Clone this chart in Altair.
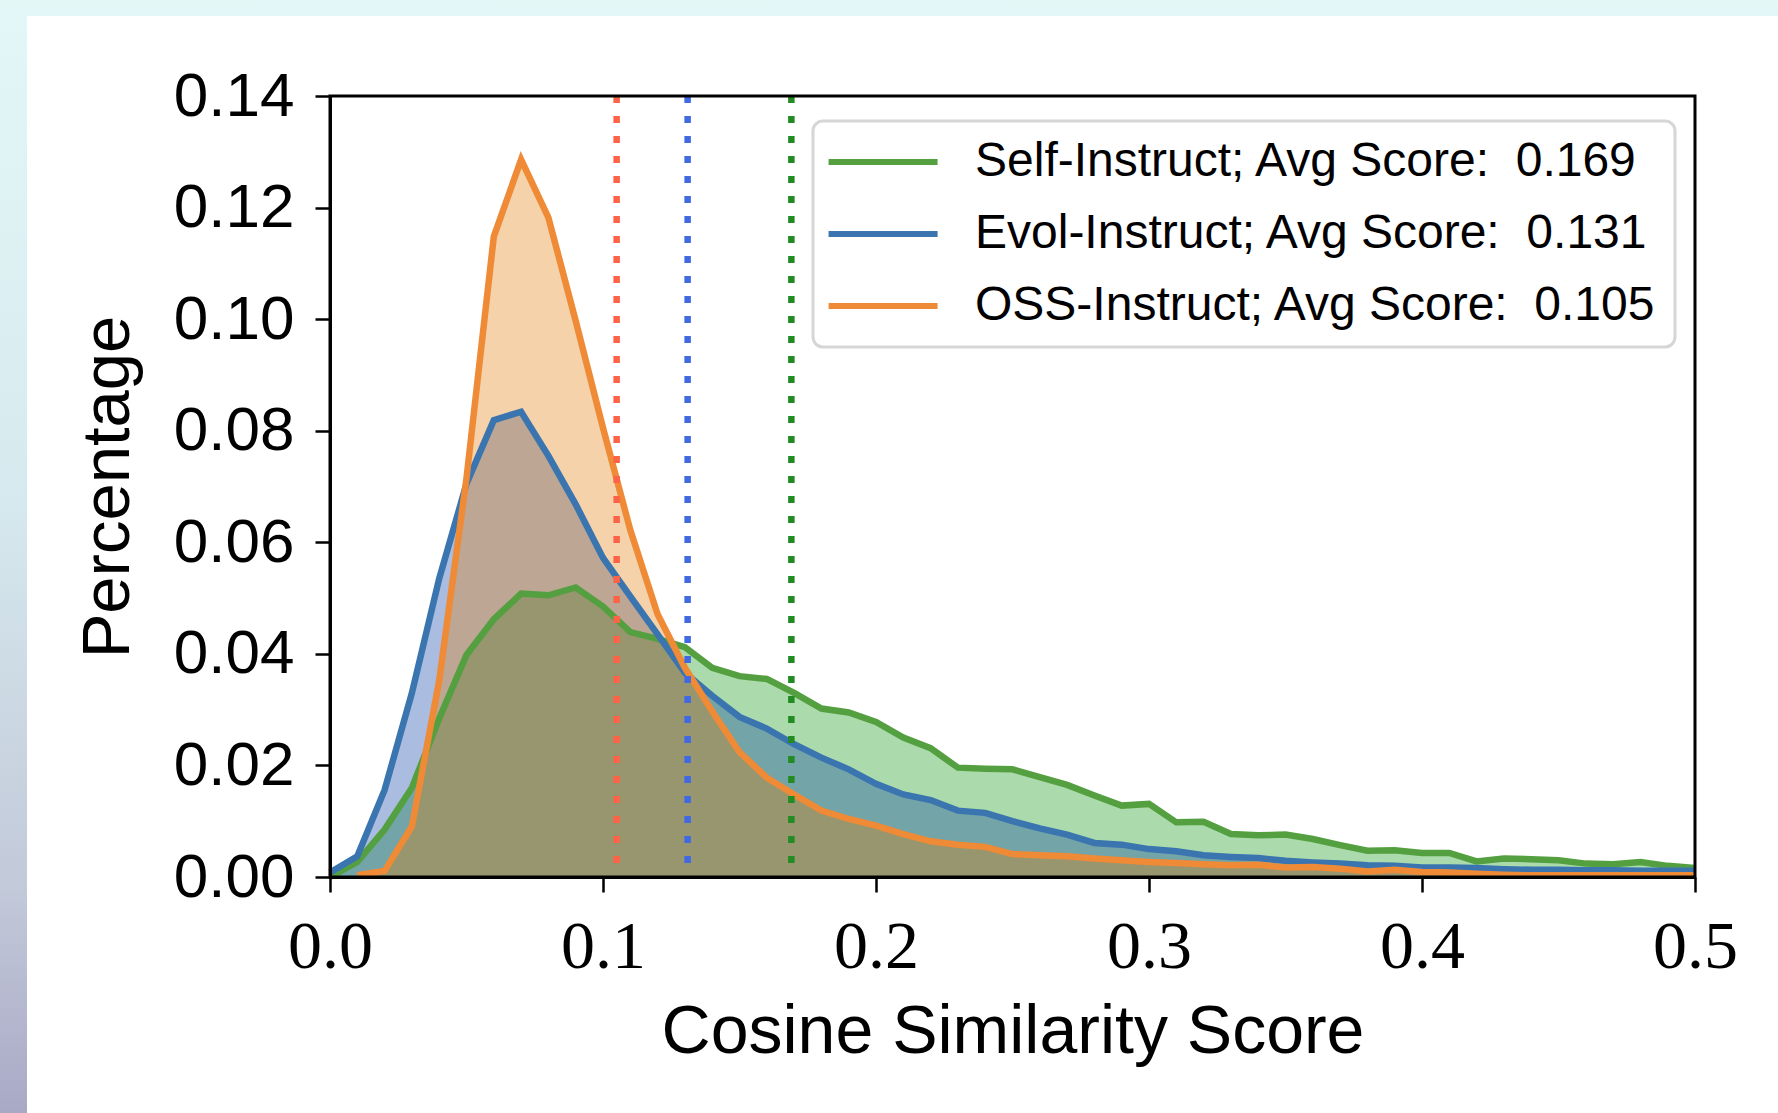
import altair as alt
import pandas as pd

# ---------------- data ----------------
x_vals = [0.00, 0.01, 0.02, 0.03, 0.04, 0.05, 0.06, 0.07, 0.08, 0.09,
          0.10, 0.11, 0.12, 0.13, 0.14, 0.15, 0.16, 0.17, 0.18, 0.19,
          0.20, 0.21, 0.22, 0.23, 0.24, 0.25, 0.26, 0.27, 0.28, 0.29,
          0.30, 0.31, 0.32, 0.33, 0.34, 0.35, 0.36, 0.37, 0.38, 0.39,
          0.40, 0.41, 0.42, 0.43, 0.44, 0.45, 0.46, 0.47, 0.48, 0.49, 0.50]

self_vals = [0.0000, 0.0027, 0.0085, 0.0160, 0.0284, 0.0398, 0.0462, 0.0508, 0.0505, 0.0519,
             0.0485, 0.0439, 0.0427, 0.0412, 0.0375, 0.0360, 0.0355, 0.0330, 0.0302, 0.0295,
             0.0278, 0.0250, 0.0231, 0.0196, 0.0194, 0.0193, 0.0179, 0.0165, 0.0146, 0.0128,
             0.0131, 0.0098, 0.0099, 0.0077, 0.0075, 0.0076, 0.0068, 0.0057, 0.0047, 0.0048,
             0.0043, 0.0043, 0.0028, 0.0033, 0.0032, 0.0030, 0.0024, 0.0023, 0.0027, 0.0020, 0.0016]

evol_vals = [0.0008, 0.0037, 0.0156, 0.0330, 0.0535, 0.0705, 0.0819, 0.0834, 0.0755, 0.0668,
             0.0572, 0.0503, 0.0435, 0.0366, 0.0325, 0.0287, 0.0266, 0.0238, 0.0214, 0.0193,
             0.0167, 0.0148, 0.0138, 0.0119, 0.0115, 0.0100, 0.0087, 0.0076, 0.0061, 0.0058,
             0.0050, 0.0046, 0.0039, 0.0036, 0.0034, 0.0029, 0.0026, 0.0024, 0.0021, 0.0020,
             0.0017, 0.0017, 0.0016, 0.0014, 0.0013, 0.0013, 0.0012, 0.0012, 0.0011, 0.0011, 0.0011]

oss_x = [0.01, 0.02, 0.03, 0.04, 0.05, 0.06, 0.07, 0.08, 0.09,
         0.10, 0.11, 0.12, 0.13, 0.14, 0.15, 0.16, 0.17, 0.18, 0.19,
         0.20, 0.21, 0.22, 0.23, 0.24, 0.25, 0.26, 0.27, 0.28, 0.29,
         0.30, 0.31, 0.32, 0.33, 0.34, 0.35, 0.36, 0.37, 0.38, 0.39,
         0.40, 0.41, 0.42, 0.43, 0.44, 0.45, 0.46, 0.47, 0.48, 0.49, 0.50]
oss_vals = [0.0003, 0.0011, 0.0091, 0.0352, 0.0715, 0.1148, 0.1286, 0.1182, 0.0997,
            0.0805, 0.0622, 0.0471, 0.0375, 0.0297, 0.0224, 0.0178, 0.0148, 0.0119, 0.0104,
            0.0092, 0.0077, 0.0064, 0.0058, 0.0054, 0.0041, 0.0039, 0.0037, 0.0033, 0.0030,
            0.0027, 0.0025, 0.0023, 0.0021, 0.0022, 0.0017, 0.0018, 0.0015, 0.0010, 0.0013,
            0.0009, 0.0008, 0.0006, 0.0004, 0.0003, 0.0003, 0.0003, 0.0003, 0.0003, 0.0003, 0.0003]

series_names = ["Self-Instruct", "Evol-Instruct", "OSS-Instruct"]
avg_scores = [0.169, 0.131, 0.105]
line_colors = ["#54a040", "#3a75af", "#ef8a36"]
fill_colors = ["#08950b", "#053aa1", "#e27a03"]
vline_colors = ["#228b22", "#4169e1", "#ff6347"]

x_ticks = [0.0, 0.1, 0.2, 0.3, 0.4, 0.5]
y_ticks = [0.00, 0.02, 0.04, 0.06, 0.08, 0.10, 0.12, 0.14]

legend_labels = [f"{n}; Avg Score:\u00a0 {s:.3f}" for n, s in zip(series_names, avg_scores)]

rows = []
for lab, xs, ys in zip(legend_labels, [x_vals, x_vals, oss_x], [self_vals, evol_vals, oss_vals]):
    for xv, yv in zip(xs, ys):
        rows.append({"x": xv, "y": yv, "series": lab})
df = pd.DataFrame(rows)

vdf = pd.DataFrame({"score": avg_scores, "col": vline_colors})
one = pd.DataFrame({"k": [0]})

W, H = 1365, 781

xenc = alt.X("x:Q", scale=alt.Scale(domain=[0, 0.5], nice=False, zero=False),
             axis=alt.Axis(values=x_ticks, format=".1f", title="Cosine Similarity Score",
                           labelFont="Liberation Serif", labelFontSize=68, labelPadding=21,
                           labelFlush=False, titleFontSize=68, titlePadding=17, zindex=1))
yenc = alt.Y("y:Q", scale=alt.Scale(domain=[0, 0.14], nice=False),
             axis=alt.Axis(values=y_ticks, format=".2f", title="Percentage",
                           labelFont="Liberation Sans", labelFontSize=62, labelPadding=21,
                           titleFontSize=67, titlePadding=31, zindex=1))

color_scale = alt.Scale(domain=legend_labels, range=line_colors)
legend = alt.Legend(orient="none", legendX=483, legendY=25, title=None,
                    symbolType="M-1.4,0H4.6", symbolSize=1320, symbolStrokeWidth=6,
                    labelFont="Liberation Sans", labelFontSize=48, labelOffset=97,
                    rowPadding=24, padding=17, fillColor="white", strokeColor="#d6d6d6",
                    cornerRadius=10, labelLimit=0, symbolOpacity=1, zindex=2)

# background + card
bg = alt.Chart(one).mark_rect(
    fill=alt.LinearGradient(gradient="linear", x1=0, x2=0, y1=0, y2=1,
                            stops=[alt.GradientStop(offset=0, color="#e4f7f7"),
                                   alt.GradientStop(offset=0.45, color="#d6e9ee"),
                                   alt.GradientStop(offset=0.8, color="#c2c9d9"),
                                   alt.GradientStop(offset=1, color="#a9a9c6")])
).encode(x=alt.value(-330), x2=alt.value(W + 83), y=alt.value(-96), y2=alt.value(H + 236))
card = alt.Chart(one).mark_rect(fill="white").encode(
    x=alt.value(-303), x2=alt.value(W + 83), y=alt.value(-80), y2=alt.value(H + 236))

layers = [bg, card]
for lab, fc in zip(legend_labels, fill_colors):
    layers.append(
        alt.Chart(df).transform_filter(alt.datum.series == lab)
        .mark_area(fillOpacity=0.34, fill=fc)
        .encode(x=xenc, y=yenc))
for lab in legend_labels:
    layers.append(
        alt.Chart(df).transform_filter(alt.datum.series == lab).mark_line(strokeWidth=6.5).encode(
            x=xenc, y=yenc, color=alt.Color("series:N", scale=color_scale, legend=legend)))

rules = alt.Chart(vdf).mark_rule(strokeWidth=6.5, strokeDash=[7, 13]).encode(
    x=alt.X("score:Q"), stroke=alt.Stroke("col:N", scale=None, legend=None))
layers.append(rules)

frame = alt.Chart(one).mark_rect(fillOpacity=0, stroke="black", strokeWidth=3).encode(
    x=alt.value(0), x2=alt.value(W), y=alt.value(0), y2=alt.value(H))
layers.append(frame)

chart = alt.layer(*layers).properties(
    width=W, height=H,
    autosize=alt.AutoSizeParams(type="none"),
    padding={"left": 330, "top": 96, "right": 83, "bottom": 236},
    background="#e4f7f7",
).configure_axis(
    grid=False, domainColor="black", domainWidth=3, tickColor="black",
    tickWidth=2.5, tickSize=15, labelColor="black", titleColor="black",
    titleFont="Liberation Sans", titleFontWeight="normal",
).configure_legend(strokeWidth=3).configure_view(strokeWidth=0)

chart.save("out.html", embed_options={"renderer": "svg", "actions": False})
